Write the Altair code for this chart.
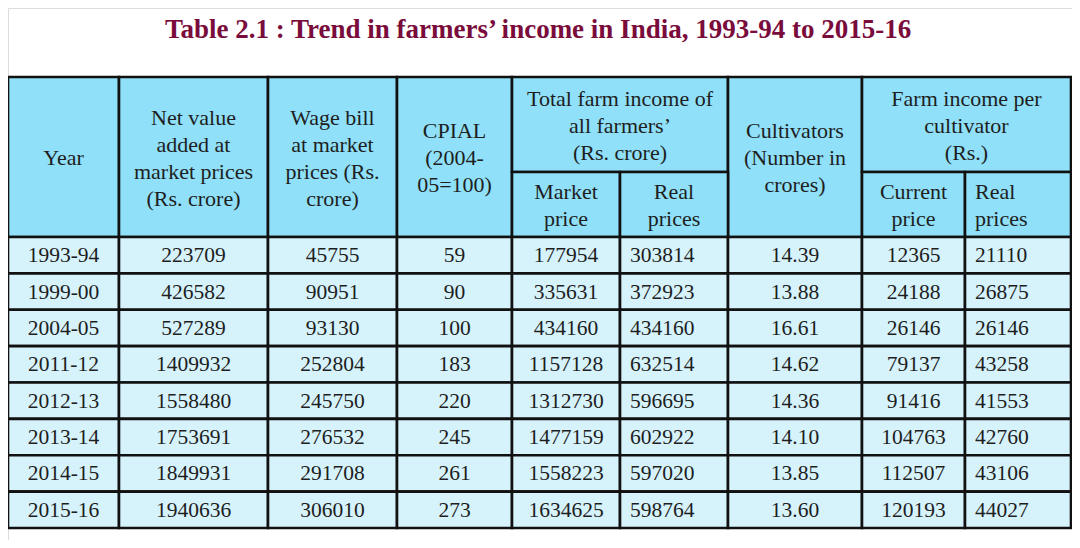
import altair as alt
import pandas as pd

# ---------------- data ----------------
title_text = "Table 2.1 : Trend in farmers\u2019 income in India, 1993-94 to 2015-16"
years = ["1993-94", "1999-00", "2004-05", "2011-12", "2012-13", "2013-14", "2014-15", "2015-16"]
net_value = [223709, 426582, 527289, 1409932, 1558480, 1753691, 1849931, 1940636]
wage_bill = [45755, 90951, 93130, 252804, 245750, 276532, 291708, 306010]
cpial = [59, 90, 100, 183, 220, 245, 261, 273]
income_market = [177954, 335631, 434160, 1157128, 1312730, 1477159, 1558223, 1634625]
income_real = [303814, 372923, 434160, 632514, 596695, 602922, 597020, 598764]
cultivators = [14.39, 13.88, 16.61, 14.62, 14.36, 14.10, 13.85, 13.60]
per_current = [12365, 24188, 26146, 79137, 91416, 104763, 112507, 120193]
per_real = [21110, 26875, 26146, 43258, 41553, 42760, 43106, 44027]

header_main = [
    "Year",
    "Net value\nadded at\nmarket prices\n(Rs. crore)",
    "Wage bill\nat market\nprices (Rs.\ncrore)",
    "CPIAL\n(2004-\n05=100)",
    "Total farm income of\nall farmers\u2019\n(Rs. crore)",
    "Cultivators\n(Number in\ncrores)",
    "Farm income per\ncultivator\n(Rs.)",
]
header_sub = ["Market\nprice", "Real\nprices", "Current\nprice", "Real\nprices"]

# ---------------- layout (page pixel grid) ----------------
W, H = 1064, 532
col_edges = [8, 119, 268, 397, 512, 620, 728, 862, 965, 1071]
top, mid, hbot, bottom = 77, 172, 237, 528
row_h = (bottom - hbot) / len(years)
left_cols = {5, 8}
LINE_H = 27
HEAD_FILL = "#8fe0f8"
BODY_FILL = "#d6f3fc"

rects, htext_c, htext_l, ctext, ltext = [], [], [], [], []

def cell(c0, c1, y0, y1, fill):
    rects.append(dict(x=col_edges[c0], x2=col_edges[c1], y=y0, y2=y1, fill=fill))

def block_top(lab, yc):
    n = lab.count("\n") + 1
    return yc - (n - 1) * LINE_H / 2

main_spans = [(0, 1, top, hbot), (1, 2, top, hbot), (2, 3, top, hbot), (3, 4, top, hbot),
              (4, 6, top, mid), (6, 7, top, hbot), (7, 9, top, mid)]
for (c0, c1, y0, y1), lab in zip(main_spans, header_main):
    cell(c0, c1, y0, y1, HEAD_FILL)
    htext_c.append(dict(x=(col_edges[c0] + col_edges[c1]) / 2, y=block_top(lab, (y0 + y1) / 2 + 1), t=lab))
for c, lab in zip([4, 5, 7, 8], header_sub):
    cell(c, c + 1, mid, hbot, HEAD_FILL)
    yb = block_top(lab, (mid + hbot) / 2 + 1)
    if c == 8:
        htext_l.append(dict(x=col_edges[c] + 10, y=yb, t=lab))
    else:
        htext_c.append(dict(x=(col_edges[c] + col_edges[c + 1]) / 2, y=yb, t=lab))

columns = [years, net_value, wage_bill, cpial, income_market, income_real,
           [f"{v:.2f}" for v in cultivators], per_current, per_real]
for r in range(len(years)):
    y0 = hbot + r * row_h
    y1 = y0 + row_h
    for c, vals in enumerate(columns):
        cell(c, c + 1, y0, y1, BODY_FILL)
        s = str(vals[r])
        if c in left_cols:
            ltext.append(dict(x=col_edges[c] + 10, y=(y0 + y1) / 2 + 1, t=s))
        else:
            ctext.append(dict(x=(col_edges[c] + col_edges[c + 1]) / 2, y=(y0 + y1) / 2 + 1, t=s))

rect_df = pd.DataFrame(rects)
title_df = pd.DataFrame([dict(x=538, y=30, t=title_text)])

xs = alt.Scale(domain=[8, 8 + W])
ys = alt.Scale(domain=[8, 8 + H], reverse=True)
X = lambda f="x": alt.X(f"{f}:Q", scale=xs, axis=None)
Y = lambda f="y": alt.Y(f"{f}:Q", scale=ys, axis=None)

FONT = "Liberation Serif"
INK = "#1e1e1e"

cells = alt.Chart(rect_df).mark_rect(stroke="#111111", strokeWidth=2.6).encode(
    x=X(), x2="x2:Q", y=Y(), y2="y2:Q",
    fill=alt.Fill("fill:N", scale=None),
)

def txt(rows, size, align):
    return alt.Chart(pd.DataFrame(rows)).mark_text(
        font=FONT, fontSize=size, color=INK, align=align, baseline="middle",
        lineBreak="\n", lineHeight=LINE_H,
    ).encode(x=X(), y=Y(), text="t:N")

title = alt.Chart(title_df).mark_text(
    font=FONT, fontSize=27, fontWeight="bold", color="#7a0c3c", align="center", baseline="middle",
).encode(x=X(), y=Y(), text="t:N")

chart = alt.layer(
    cells,
    txt(htext_c, 22, "center"), txt(htext_l, 22, "left"),
    txt(ctext, 21.5, "center"), txt(ltext, 21.5, "left"),
    title,
).properties(
    width=W, height=H, autosize=alt.AutoSizeParams(type="none"), padding=0,
).configure_view(strokeWidth=0).configure(background="white")

chart.save("out.html", embed_options={"renderer": "svg", "actions": False})
